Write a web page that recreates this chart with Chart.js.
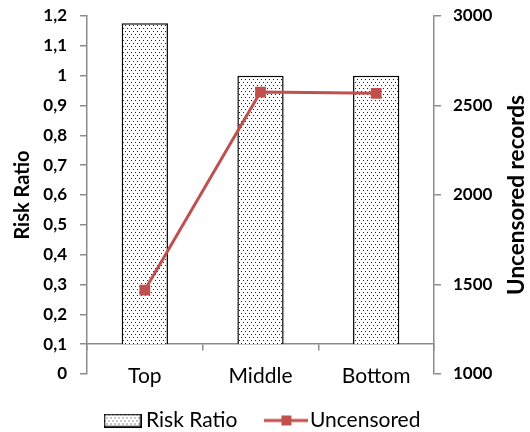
<!DOCTYPE html>
<html>
<head>
<meta charset="utf-8">
<script src="https://cdn.jsdelivr.net/npm/chart.js@4/dist/chart.umd.min.js"></script>
<style>
  html, body { margin: 0; padding: 0; background: #fff; }
  #wrap { width: 530px; height: 432px; }
</style>
</head>
<body>
<div id="wrap"><canvas id="chart" width="530" height="432"></canvas></div>
<script>
// chart data
const categories = ['Top', 'Middle', 'Bottom'];
const riskRatio = [1.176, 1.0, 1.0];
const uncensored = [1469, 2575, 2568];

const FONT = 'Lato, "Open Sans", sans-serif';
const RED = '#C0504D';
const AXIS_GREY = '#8c8c8c';

// dotted fill like the excel pattern
function makeDots() {
    const c = document.createElement('canvas');
    c.width = 4; c.height = 6;
    const g = c.getContext('2d');
    g.fillStyle = '#fff';
    g.fillRect(0, 0, 4, 6);
    g.fillStyle = '#222';
    g.fillRect(1, 1, 1, 1);
    g.fillRect(3, 4, 1, 1);
    return c;
}
const dotTile = makeDots();
const ctx = document.getElementById('chart').getContext('2d');
const dotPattern = ctx.createPattern(dotTile, 'repeat');

// legend swatches
function barSwatch() {
    const c = document.createElement('canvas');
    c.width = 38; c.height = 14;
    const g = c.getContext('2d');
    g.fillStyle = g.createPattern(dotTile, 'repeat');
    g.fillRect(0, 0, 38, 14);
    g.strokeStyle = '#000';
    g.lineWidth = 1.5;
    g.strokeRect(0.75, 0.75, 36.5, 12.5);
    return c;
}
function lineSwatch() {
    const c = document.createElement('canvas');
    c.width = 44; c.height = 12;
    const g = c.getContext('2d');
    g.strokeStyle = RED;
    g.lineWidth = 3;
    g.beginPath();
    g.moveTo(0, 6);
    g.lineTo(44, 6);
    g.stroke();
    g.fillStyle = RED;
    g.fillRect(17, 1, 10, 10);
    return c;
}

// right axis title reads bottom-to-top like the left one
const rightTitle = {
    id: 'rightTitle',
    afterDraw(chart) {
        const area = chart.chartArea;
        const c = chart.ctx;
        c.save();
        c.translate(517, (area.top + area.bottom) / 2);
        c.rotate(-Math.PI / 2);
        c.font = 'bold 22.5px ' + FONT;
        c.fillStyle = '#000';
        c.textAlign = 'center';
        c.textBaseline = 'middle';
        c.fillText('Uncensored records', 0, 0);
        c.restore();
    }
};

new Chart(ctx, {
    data: {
        labels: categories,
        datasets: [
            {
                type: 'line',
                label: 'Uncensored',
                data: uncensored,
                yAxisID: 'y2',
                borderColor: RED,
                backgroundColor: RED,
                borderWidth: 3,
                pointStyle: 'rect',
                pointRadius: 5.5,
                pointHoverRadius: 5.5,
                order: 0
            },
            {
                type: 'bar',
                label: 'Risk Ratio',
                data: riskRatio,
                yAxisID: 'y',
                base: 0.1,
                backgroundColor: dotPattern,
                borderColor: '#000',
                borderWidth: 1.5,
                categoryPercentage: 1,
                barPercentage: 0.4,
                order: 1
            }
        ]
    },
    options: {
        responsive: false,
        animation: false,
        layout: { padding: { top: 16, left: 0, right: 0, bottom: -9 } },
        plugins: {
            tooltip: { enabled: false },
            legend: {
                position: 'bottom',
                labels: {
                    usePointStyle: true,
                    pointStyleWidth: 26,
                    boxHeight: 14,
                    padding: 36,
                    color: '#000',
                    font: { family: FONT, size: 21 },
                    generateLabels(chart) {
                        return [
                            { text: 'Risk Ratio', pointStyle: barSwatch(), fillStyle: dotPattern, strokeStyle: '#000', lineWidth: 0, datasetIndex: 1 },
                            { text: 'Uncensored', pointStyle: lineSwatch(), fillStyle: RED, strokeStyle: RED, lineWidth: 0, datasetIndex: 0 }
                        ];
                    }
                }
            }
        },
        scales: {
            x: {
                position: { y: 0.1 },
                offset: true,
                grid: { offset: true, drawOnChartArea: false, color: AXIS_GREY, tickLength: 6, lineWidth: 1.5 },
                border: { color: AXIS_GREY, width: 1.5 },
                ticks: { color: '#000', padding: 13, font: { family: FONT, size: 21 } }
            },
            y: {
                position: 'left',
                min: 0,
                max: 1.2,
                afterFit(scale) { scale.width = 87; scale.paddingTop = 0; scale.paddingBottom = 0; },
                ticks: {
                    stepSize: 0.1,
                    color: '#000',
                    padding: 13,
                    font: { family: FONT, size: 17, weight: 'bold' },
                    callback: v => String(Math.round(v * 10) / 10).replace('.', ',')
                },
                grid: { drawOnChartArea: false, color: AXIS_GREY, tickLength: 7, lineWidth: 1.5 },
                border: { color: AXIS_GREY, width: 1.5 },
                title: { display: true, text: 'Risk Ratio', color: '#000', padding: { top: 11, bottom: 0 }, font: { family: FONT, size: 20, weight: 'bold' } }
            },
            y2: {
                position: 'right',
                min: 1000,
                max: 3000,
                afterFit(scale) { scale.width = 96; scale.paddingTop = 0; scale.paddingBottom = 0; },
                ticks: {
                    stepSize: 500,
                    color: '#000',
                    padding: 12,
                    font: { family: FONT, size: 17, weight: 'bold' },
                    callback: v => String(v)
                },
                grid: { drawOnChartArea: false, color: AXIS_GREY, tickLength: 7, lineWidth: 1.5 },
                border: { color: AXIS_GREY, width: 1.5 }
            }
        }
    },
    plugins: [rightTitle]
});
</script>
</body>
</html>
